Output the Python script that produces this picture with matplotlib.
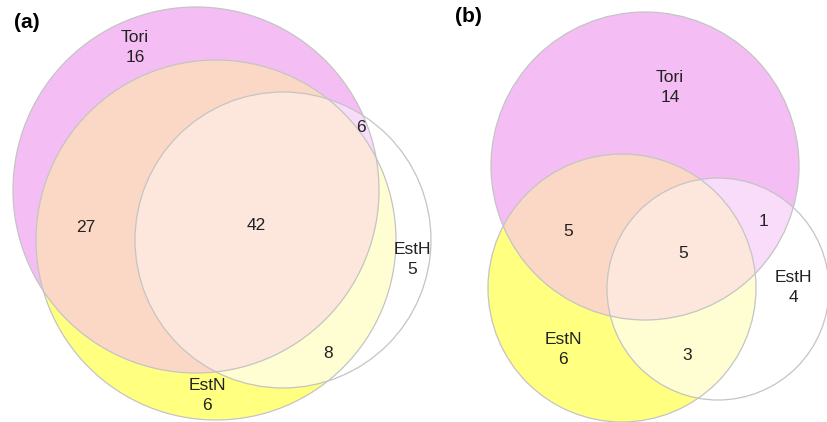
import numpy as np
import matplotlib
matplotlib.use('Agg')
import matplotlib.pyplot as plt
from matplotlib.patches import Circle, Polygon

plt.rcParams['font.family'] = ['Liberation Sans', 'DejaVu Sans']

# ------------------- data -------------------
set_names = ['Tori', 'EstN', 'EstH']
panel_tags = ['(a)', '(b)']

# region counts: only-Tori, only-EstN, only-EstH, Tori&EstN, Tori&EstH, EstN&EstH, all three
counts_a = [16, 6, 5, 27, 6, 8, 42]
counts_b = [14, 6, 4, 5, 1, 3, 5]

# ------------------- layout (pixel coords) -------------------
# circles: (cx, cy, r) for Tori, EstN, EstH
circles_a = [(196, 190, 183), (216, 240, 180), (283, 240, 148)]
circles_b = [(645, 166, 154), (622, 288, 134), (718, 289, 111)]

# label anchors for the 7 region counts (same order as counts)
spots_a = [(135, 58), (207, 406), (412, 270), (86, 227), (361, 128), (328, 353), (256, 226)]
spots_b = [(670, 98), (563, 360), (793, 298), (568, 232), (763, 221), (687, 355), (683, 253)]
tag_pos = [(27, 22), (468, 16)]

# region colours
c_t = '#f4bef4'
c_n = '#ffff80'
c_tn = '#fbd8c6'
c_th = '#f9dcf9'
c_nh = '#fffdd2'
c_tnh = '#fde7dc'
c_edge = '#c4c4c4'

fig = plt.figure(figsize=(8.27, 4.22), dpi=100)
ax = fig.add_axes([0, 0, 1, 1])
ax.set_xlim(0, 827)
ax.set_ylim(422, 0)
ax.set_aspect('equal')
ax.axis('off')


def clip_circle(c):
    return Circle(c[:2], c[2], transform=ax.transData)


def triple_poly(cs):
    # boundary points of each circle that lie inside the other two
    t = np.linspace(0, 2 * np.pi, 1440, endpoint=False)
    pts = []
    for i, (x, y, r) in enumerate(cs):
        px = x + r * np.cos(t)
        py = y + r * np.sin(t)
        keep = np.ones_like(px, dtype=bool)
        for j, (x2, y2, r2) in enumerate(cs):
            if j != i:
                keep &= (px - x2) ** 2 + (py - y2) ** 2 <= r2 ** 2 + 1e-6
        pts.append(np.column_stack([px[keep], py[keep]]))
    pts = np.vstack(pts)
    m = pts.mean(axis=0)
    ang = np.arctan2(pts[:, 1] - m[1], pts[:, 0] - m[0])
    return pts[np.argsort(ang)]


def venn(cs, counts, spots):
    T, N, H = cs
    ax.add_patch(Circle(T[:2], T[2], fc=c_t, ec='none'))
    ax.add_patch(Circle(N[:2], N[2], fc=c_n, ec='none'))
    p = ax.add_patch(Circle(N[:2], N[2], fc=c_tn, ec='none'))
    p.set_clip_path(clip_circle(T))
    p = ax.add_patch(Circle(H[:2], H[2], fc=c_th, ec='none'))
    p.set_clip_path(clip_circle(T))
    p = ax.add_patch(Circle(H[:2], H[2], fc=c_nh, ec='none'))
    p.set_clip_path(clip_circle(N))
    ax.add_patch(Polygon(triple_poly(cs), closed=True, fc=c_tnh, ec='none'))
    for c in cs:
        ax.add_patch(Circle(c[:2], c[2], fc='none', ec=c_edge, lw=0.9))

    for k, (val, (x, y)) in enumerate(zip(counts, spots)):
        ax.text(x, y, str(val), ha='center', va='center', fontsize=12.5, color='#222222')
        if k < 3:
            ax.text(x, y - 21, set_names[k], ha='center', va='center',
                    fontsize=12.5, color='#222222')


venn(circles_a, counts_a, spots_a)
venn(circles_b, counts_b, spots_b)

for tag, (x, y) in zip(panel_tags, tag_pos):
    ax.text(x, y, tag, ha='center', va='center', fontsize=15, fontweight='bold')

fig.savefig('out.png', dpi=100)
